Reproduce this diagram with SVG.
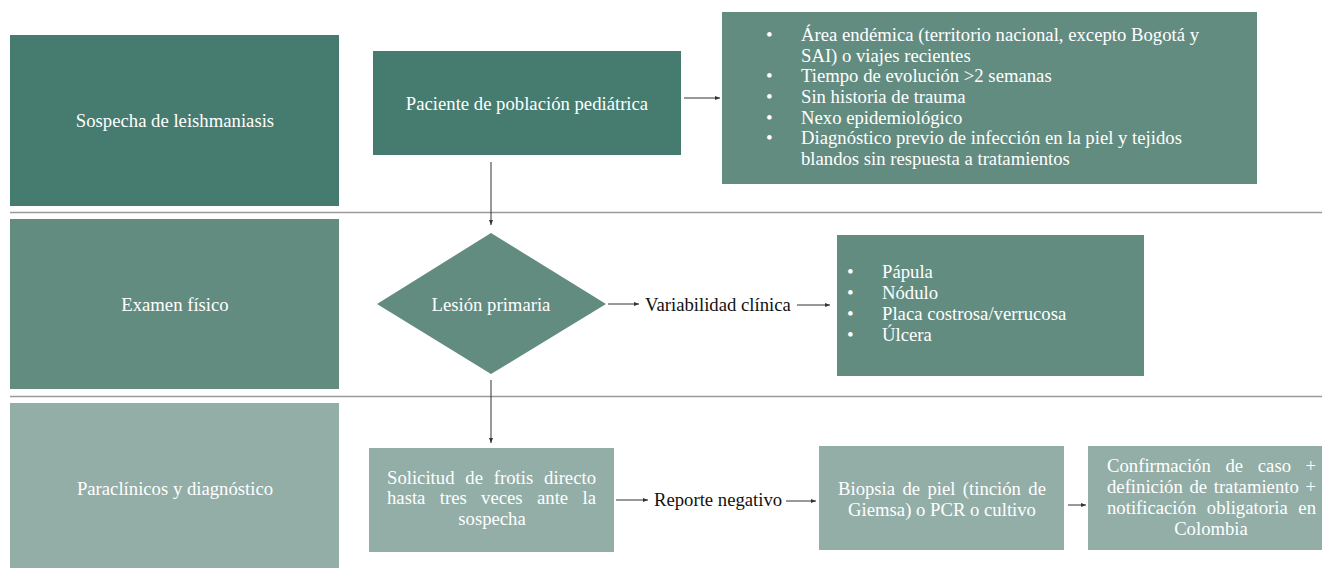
<svg xmlns="http://www.w3.org/2000/svg" width="1322" height="568" viewBox="0 0 1322 568">
<defs>
<marker id="ah" markerWidth="6" markerHeight="6" refX="5" refY="3" orient="auto" markerUnits="userSpaceOnUse">
<path d="M0,1 L5,3 L0,5 Z" fill="#333"/>
</marker>
<style>
.t{font-family:"Liberation Serif","Times New Roman",serif;font-size:18.7px;fill:#ffffff}
.k{font-family:"Liberation Serif","Times New Roman",serif;font-size:18.7px;fill:#111111}
.b{font-family:"Liberation Serif","Times New Roman",serif;font-size:19px;fill:#ffffff}
.c{text-anchor:middle}
.e{text-anchor:end}
.d1{fill:#457c6f}
.d2{fill:#638c81}
.d3{fill:#93aea7}
.sep{stroke:#9a9a9a;stroke-width:1.5}
.con{stroke:#333;stroke-width:1;fill:none;marker-end:url(#ah)}
</style>
</defs>
<rect width="1322" height="568" fill="#ffffff"/>
<g id="separators">
<line class="sep" x1="10" y1="212.5" x2="1322" y2="212.5"/>
<line class="sep" x1="10" y1="396.5" x2="1322" y2="396.5"/>
</g>
<g id="lane1">
<rect class="d1" x="10" y="35" width="329" height="171"/>
<text class="t c" x="175" y="127">Sospecha de leishmaniasis</text>
</g>
<g id="lane2">
<rect class="d2" x="10" y="219" width="329" height="170"/>
<text class="t c" x="175" y="311">Examen físico</text>
</g>
<g id="lane3">
<rect class="d3" x="10" y="403" width="329" height="165"/>
<text class="t c" x="175" y="495">Paraclínicos y diagnóstico</text>
</g>
<g id="paciente">
<rect class="d1" x="373" y="51" width="308" height="104"/>
<text class="t c" x="527" y="110">Paciente de población pediátrica</text>
</g>
<g id="criterios">
<rect class="d2" x="722" y="12" width="535" height="172"/>
<g class="b">
<text x="766" y="41">•</text>
<text x="766" y="82">•</text>
<text x="766" y="103">•</text>
<text x="766" y="124">•</text>
<text x="766" y="144">•</text>
</g>
<g class="t">
<text x="801" y="41">Área endémica (territorio nacional, excepto Bogotá y</text>
<text x="801" y="62">SAI) o viajes recientes</text>
<text x="801" y="82">Tiempo de evolución &gt;2 semanas</text>
<text x="801" y="103">Sin historia de trauma</text>
<text x="801" y="124">Nexo epidemiológico</text>
<text x="801" y="144">Diagnóstico previo de infección en la piel y tejidos</text>
<text x="801" y="165">blandos sin respuesta a tratamientos</text>
</g>
</g>
<g id="lesion">
<polygon class="d2" points="491,233 606,304 491,374 377,304"/>
<text class="t c" x="491" y="311">Lesión primaria</text>
</g>
<g id="variabilidad">
<text class="k" x="645" y="311">Variabilidad clínica</text>
</g>
<g id="formas">
<rect class="d2" x="837" y="235" width="307" height="141"/>
<g class="b">
<text x="847" y="278">•</text>
<text x="847" y="299">•</text>
<text x="847" y="320">•</text>
<text x="847" y="341">•</text>
</g>
<g class="t">
<text x="882" y="278">Pápula</text>
<text x="882" y="299">Nódulo</text>
<text x="882" y="320">Placa costrosa/verrucosa</text>
<text x="882" y="341">Úlcera</text>
</g>
</g>
<g id="frotis">
<rect class="d3" x="369" y="448" width="245" height="104"/>
<g class="t">
<text y="484"><tspan x="387">Solicitud</tspan><tspan x="465.3">de</tspan><tspan x="493.8">frotis</tspan><tspan x="596" class="e">directo</tspan></text>
<text y="504"><tspan x="387">hasta</tspan><tspan x="439.8">tres</tspan><tspan x="481.1">veces</tspan><tspan x="537">ante</tspan><tspan x="596" class="e">la</tspan></text>
<text class="c" x="492" y="525">sospecha</text>
</g>
</g>
<g id="reporte">
<text class="k" x="654" y="506">Reporte negativo</text>
</g>
<g id="biopsia">
<rect class="d3" x="819" y="446" width="245" height="104"/>
<g class="t">
<text y="495"><tspan x="838">Biopsia</tspan><tspan x="902.5">de</tspan><tspan x="927.4">piel</tspan><tspan x="962.8">(tinción</tspan><tspan x="1046" class="e">de</tspan></text>
<text class="c" x="942" y="516">Giemsa) o PCR o cultivo</text>
</g>
</g>
<g id="confirmacion">
<rect class="d3" x="1088" y="446" width="234" height="104"/>
<g class="t">
<text y="472"><tspan x="1107">Confirmación</tspan><tspan x="1225.5">de</tspan><tspan x="1257.8">caso</tspan><tspan x="1316" class="e">+</tspan></text>
<text y="493"><tspan x="1107">definición</tspan><tspan x="1189.4">de</tspan><tspan x="1213.7">tratamiento</tspan><tspan x="1316" class="e">+</tspan></text>
<text y="514"><tspan x="1107">notificación</tspan><tspan x="1206.8">obligatoria</tspan><tspan x="1316" class="e">en</tspan></text>
<text class="c" x="1211" y="535">Colombia</text>
</g>
</g>
<g id="connectors">
<line class="con" x1="684" y1="98" x2="720" y2="98"/>
<line class="con" x1="491" y1="162" x2="491" y2="225"/>
<line class="con" x1="608" y1="304" x2="639" y2="304"/>
<line class="con" x1="797" y1="305" x2="830" y2="305"/>
<line class="con" x1="491" y1="380" x2="491" y2="443"/>
<line class="con" x1="616" y1="500" x2="648" y2="500"/>
<line class="con" x1="786" y1="501" x2="816" y2="501"/>
<line class="con" x1="1068" y1="505" x2="1086" y2="505"/>
</g>
</svg>
